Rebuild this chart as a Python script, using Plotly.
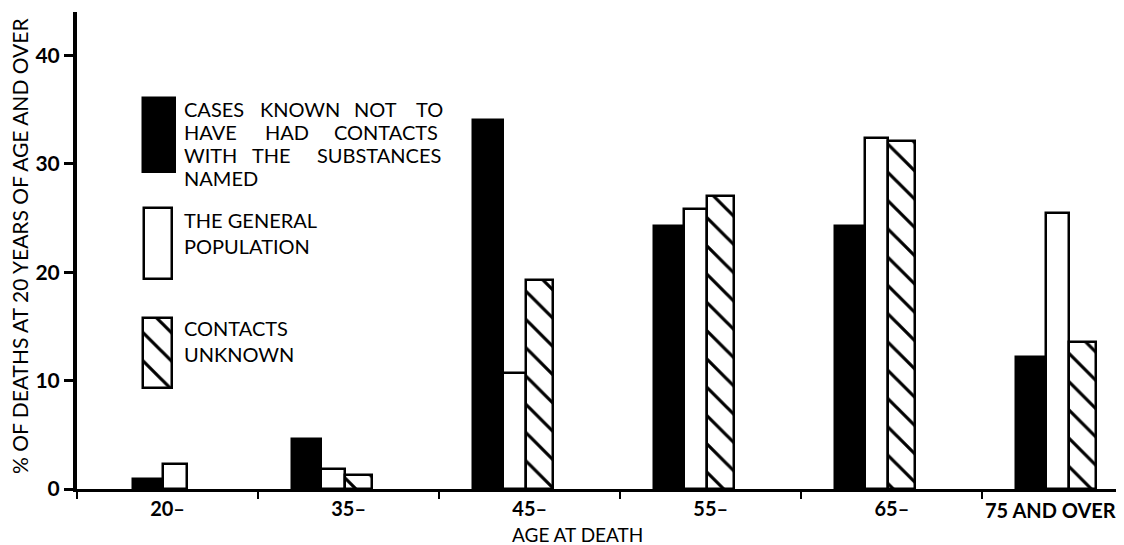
import plotly.graph_objects as go

# ---------------- data ----------------
categories = ["20–", "35–", "45–", "55–", "65–", "75 AND OVER"]
no_contact = [0.9, 4.6, 34.0, 24.3, 24.3, 12.2]           # cases known not to have had contacts
general_population = [2.3, 1.8, 10.7, 25.8, 32.4, 25.5]   # the general population
contacts_unknown = [None, 1.3, 19.3, 27.0, 32.1, 13.6]    # contacts unknown (no bar at 20–)
y_tick_values = [0, 10, 20, 30, 40]
y_title = "% OF DEATHS AT 20 YEARS OF AGE AND OVER"
x_title = "AGE AT DEATH"
legend_entries = [
    ["CASES KNOWN NOT TO", "HAVE HAD CONTACTS", "WITH THE SUBSTANCES", "NAMED"],
    ["THE GENERAL", "POPULATION"],
    ["CONTACTS", "UNKNOWN"],
]

# ---------------- style / layout (page pixel coordinates) ----------------
FONT = "Lato, 'Open Sans', sans-serif"
PAGE_OFF = 8                       # default body margin of the html page
PAGE_W, PAGE_H = 1124, 545
PX0, PX1, PY0, PY1 = 77, 1120, 489, 12   # plot area on the page
W, H = PAGE_W - PAGE_OFF, PAGE_H - PAGE_OFF


def paper_x(px):
    return (px - PX0) / (PX1 - PX0)


def paper_y(py):
    return (PY0 - py) / (PY0 - PY1)


# bar group placement within each category (style, category units)
GROUP_SHIFT = [0.125, 0, 0, 0, 0, 0]


def offsets(base):
    return [base + s for s in GROUP_SHIFT]


LAST = categories[-1]
tick_text = ["" if c == LAST else c for c in categories]   # last label drawn below, shifted left

outline = dict(color="black", width=2.5)
hatch = dict(shape="\\", fgcolor="black", fgopacity=1, bgcolor="white",
             size=20, solidity=0.16, fillmode="replace")

fig = go.Figure()
fig.add_bar(x=categories, y=no_contact, offset=offsets(-0.315), width=0.165,
            marker=dict(color="black", line=outline), showlegend=False)
fig.add_bar(x=categories, y=general_population, offset=offsets(-0.15), width=0.13,
            marker=dict(color="white", line=outline), showlegend=False)
fig.add_bar(x=categories, y=contacts_unknown, offset=offsets(-0.02), width=0.15,
            marker=dict(color="white", line=outline, pattern=hatch), showlegend=False)

# ---------------- legend key (drawn on a pixel-scaled overlay axis) ----------------
swatches = [  # (centre x, top y, width, height) in page pixels
    (159, 98, 32, 74, dict(color="black", line=outline)),
    (158, 208, 28, 71, dict(color="white", line=outline)),
    (157.5, 318, 29, 70, dict(color="white", line=outline, pattern=hatch)),
]
for cx, top, w, h, mk in swatches:
    fig.add_bar(x=[cx], y=[h], base=[top], width=[w], marker=mk,
                xaxis="x2", yaxis="y2", showlegend=False)

# word positions of the (justified) legend text, in page pixels
line_y = [[108, 131, 154, 177], [219, 245], [327, 353]]
word_x = {
    "CASES KNOWN NOT TO": [182, 258, 352, 414],
    "HAVE HAD CONTACTS": [182, 263, 332],
    "WITH THE SUBSTANCES": [182, 250, 315],
}
annotations = []
legend_font = dict(family=FONT, size=20, color="black")
for lines, ys in zip(legend_entries, line_y):
    for txt, yc in zip(lines, ys):
        words = txt.split(" ")
        xs = word_x.get(txt)
        if xs is None:
            words, xs = [txt], [182]
        for wd, xw in zip(words, xs):
            annotations.append(dict(text=wd, xref="paper", yref="paper",
                                    x=paper_x(xw), y=paper_y(yc + 1),
                                    xanchor="left", yanchor="middle", showarrow=False,
                                    font=legend_font))

# last category label (sits left of its category centre in the original)
annotations.append(dict(text=LAST, xref="x", yref="paper", x=LAST, y=paper_y(510),
                        xanchor="center", yanchor="middle", xshift=-22, showarrow=False,
                        font=dict(family=FONT, size=20, color="black", weight="bold")))

annotations.append(dict(text=y_title, xref="paper", yref="paper",
                        x=paper_x(19), y=paper_y(246),
                        textangle=-90, showarrow=False, xanchor="center", yanchor="middle",
                        font=dict(family=FONT, size=21, color="black")))
annotations.append(dict(text=x_title, xref="paper", yref="paper",
                        x=paper_x(577), y=paper_y(534), xanchor="center", yanchor="middle",
                        showarrow=False, font=dict(family=FONT, size=19, color="black")))

fig.update_layout(
    width=W, height=H,
    margin=dict(l=PX0 - PAGE_OFF, r=W - (PX1 - PAGE_OFF), t=PY1 - PAGE_OFF,
                b=H - (PY0 - PAGE_OFF), pad=0, autoexpand=False),
    paper_bgcolor="white", plot_bgcolor="white",
    barmode="overlay",
    bargap=0,
    font=dict(family=FONT, color="black"),
    xaxis=dict(type="category", range=[-0.5, 5.26], tickson="boundaries",
               ticks="outside", ticklen=7, tickwidth=1.5, tickcolor="black",
               tickvals=categories, ticktext=tick_text, tickangle=0, automargin=False,
               tickfont=dict(family=FONT, size=20, color="black", weight="bold"),
               showline=True, linewidth=3, linecolor="black",
               showgrid=False, zeroline=False, fixedrange=True),
    yaxis=dict(range=[0, 44], tickvals=y_tick_values, automargin=False,
               ticks="outside", ticklen=9, tickwidth=2.5, tickcolor="black",
               tickfont=dict(family=FONT, size=21, color="black", weight="bold"),
               showline=True, linewidth=4, linecolor="black",
               showgrid=False, zeroline=False, fixedrange=True),
    xaxis2=dict(overlaying="x", range=[PX0, PX1], visible=False, fixedrange=True,
                automargin=False),
    yaxis2=dict(overlaying="y", range=[PY0, PY1], visible=False, fixedrange=True,
                automargin=False),
    annotations=annotations,
)

fig.write_html("out.html")
